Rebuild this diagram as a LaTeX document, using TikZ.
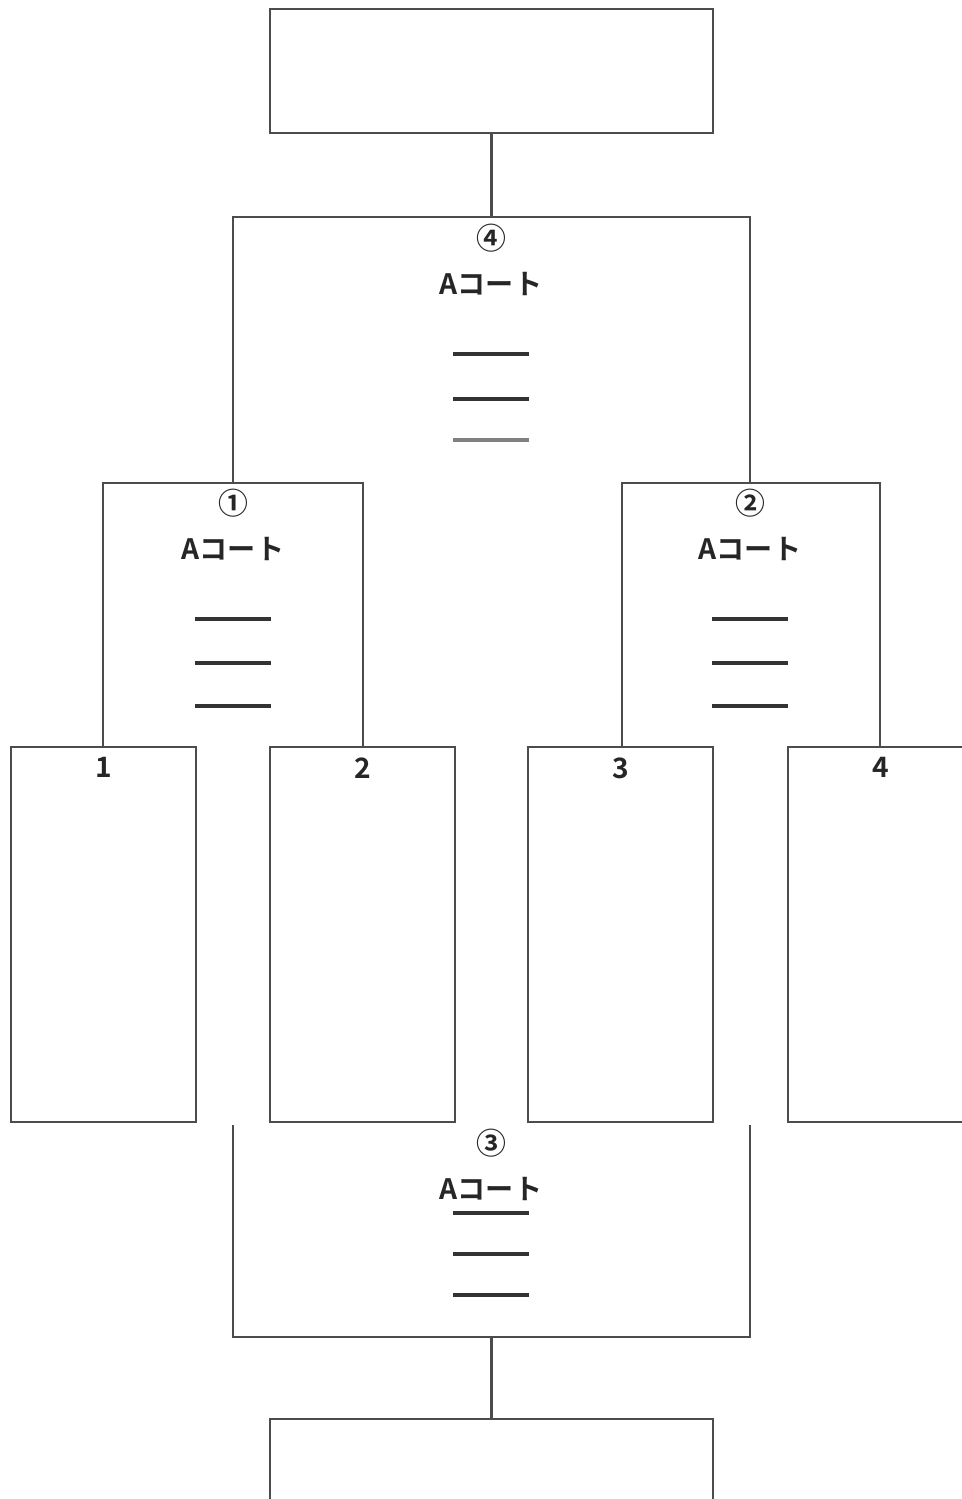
\documentclass[tikz,border=0pt]{standalone}
\usepackage{fontspec}
\setmainfont{Noto Sans CJK JP}[BoldFont={Noto Sans CJK JP Bold}]
\usetikzlibrary{positioning}

\tikzset{
  frame/.style={draw=black!70, line width=1.2pt},
  court/.style={frame, minimum width=3.7cm, minimum height=7.5cm, inner sep=0pt},
  final/.style={frame, minimum width=8.86cm, minimum height=2.48cm, inner sep=0pt},
  label/.style={font=\bfseries\fontsize{16}{18}\selectfont, text=black!85},
  round/.style={font=\bfseries\fontsize{17}{19}\selectfont, text=black!85},
  blank/.style={line width=2pt, black!80},
}

\begin{document}
\begin{tikzpicture}[x=0.02cm, y=-0.02cm]
    \useasboundingbox (0,0) rectangle (962,1499);
    \clip (0,0) rectangle (962,1499);

    % Boxes
    \node[final] (top) at (491.5,71) {};
    \node[final, minimum height=3.6cm] (bottom) at (491.5,1509) {};
    \node[court] (b1) at (103.5,934.5) {};
    \node[court] (b2) at (362.5,934.5) {};
    \node[court] (b3) at (620.5,934.5) {};
    \node[court] (b4) at (880.5,934.5) {};

    % Team numbers
    \node[label, below=3pt of b1.north] (n1) {1};
    \node[label, below=3pt of b2.north] (n2) {2};
    \node[label, below=3pt of b3.north] (n3) {3};
    \node[label, below=3pt of b4.north] (n4) {4};

    % Bracket corners
    \coordinate (j1) at (103,483);  \coordinate (k1) at (363,483);
    \coordinate (j2) at (622,483);  \coordinate (k2) at (880,483);
    \coordinate (j4) at (233,217);  \coordinate (k4) at (750,217);
    \coordinate (j3) at (233,1337); \coordinate (k3) at (750,1337);
    \coordinate (s3a) at (233,1125); \coordinate (s3b) at (750,1125);

    % Brackets
    \draw[frame] (b1.north -| j1) -- (j1) -- (k1) -- (b2.north -| k1);
    \draw[frame] (b3.north -| j2) -- (j2) -- (k2) -- (b4.north -| k2);
    \draw[frame] (j1 -| j4) -- (j4) -- (k4) -- (j2 -| k4);
    \draw[frame] (top.south) -- (top.south |- j4);
    \draw[frame] (s3a) -- (j3) -- (k3) -- (s3b);
    \draw[frame] (bottom.north) -- (bottom.north |- j3);

    % Match labels
    \node[round] (m4) at (491,238) {④};
    \node[label] (c4) at (491,284) {Aコート};
    \node[round] (m1) at (233,503) {①};
    \node[label] (c1) at (233,549) {Aコート};
    \node[round] (m2) at (750,503) {②};
    \node[label] (c2) at (750,549) {Aコート};
    \node[round] (m3) at (491,1143) {③};
    \node[label] (c3) at (491,1189) {Aコート};

    % Score blanks
    \foreach \y in {354,399} \draw[blank] (453,\y) -- (529,\y);
    \draw[blank, black!50] (453,440) -- (529,440);
    \foreach \y in {619,663,706} {
        \draw[blank] (195,\y) -- (271,\y);
        \draw[blank] (712,\y) -- (788,\y);
    }
    \foreach \y in {1213,1254,1295} \draw[blank] (453,\y) -- (529,\y);
\end{tikzpicture}
\end{document}
